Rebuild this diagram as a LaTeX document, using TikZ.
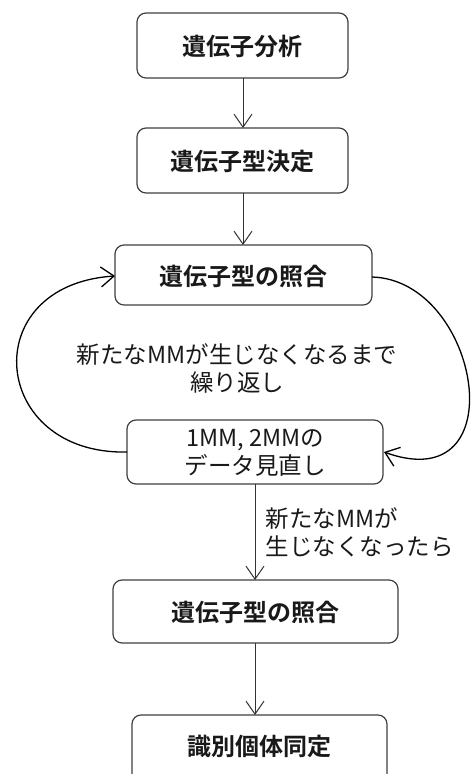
\documentclass[tikz,border=0pt]{standalone}
\usepackage{fontspec}
\setmainfont{Noto Sans CJK JP}
\newfontfamily\cjkbold{Noto Sans CJK JP Bold}
\usetikzlibrary{arrows.meta}
\tikzset{
  box/.style={draw=black!75, line width=1.2pt, rounded corners=9pt, fill=white},
  conn/.style={draw=black!80, line width=1pt, -{Straight Barb[length=13pt,width=18pt,line width=1pt]}},
  loopc/.style={draw=black, line width=1.3pt, -{Straight Barb[length=13pt,width=20pt,line width=1.3pt]}},
  bt/.style={font=\cjkbold\fontsize{24}{28}\selectfont, text=black!90},
  rt/.style={font=\fontsize{23.5}{28}\selectfont, text=black!90},
}
\begin{document}
\begin{tikzpicture}[x=1pt,y=-1pt]
\clip (0,0) rectangle (472,774);
\useasboundingbox (0,0) rectangle (472,774);
% boxes
\draw[box] (137,13) rectangle (348,78);
\draw[box] (137,128) rectangle (348,193);
\draw[box] (115,245) rectangle (372,305);
\draw[box] (127,420) rectangle (383,484);
\draw[box] (113,580) rectangle (398,643);
\draw[box] (132,715) rectangle (387,790);
\coordinate (b1s) at (243,78);
\coordinate (b2n) at (243,128);
\coordinate (b2s) at (243,193);
\coordinate (b3n) at (243,245);
\coordinate (b3w) at (115,276);
\coordinate (b3e) at (372,277);
\coordinate (b4w) at (127,452);
\coordinate (b4e) at (384,452);
\coordinate (b4s) at (255,484);
\coordinate (b5n) at (255,580);
\coordinate (b5s) at (255,643);
\coordinate (b6n) at (255,715);
% texts
\node[bt] (t1) at (242.5,46) {遺伝子分析};
\node[bt] (t2) at (242.5,161) {遺伝子型決定};
\node[bt] (t3) at (243.5,276) {遺伝子型の照合};
\node[rt, align=center] (t4) at (255,453) {1MM, 2MMの\\データ見直し};
\node[bt] (t5) at (255.5,612) {遺伝子型の照合};
\node[bt] (t6) at (259.5,746) {識別個体同定};
\node[rt, align=center] (lp) at (237,368) {新たなMMが生じなくなるまで\\繰り返し};
\node[rt, align=left, anchor=west] (sd) at (262,532) {新たなMMが\\生じなくなったら};
% connectors
\draw[conn] (b1s) -- (b2n);
\draw[conn] (b2s) -- (b3n);
\draw[conn] (b4s) -- (b5n);
\draw[conn] (b5s) -- (b6n);
\draw[loopc] (b4w) .. controls (-10,455) and (-25,285) .. (b3w);
\draw[loopc] (b3e) .. controls (480,280) and (517,500) .. (b4e);
\end{tikzpicture}
\end{document}
